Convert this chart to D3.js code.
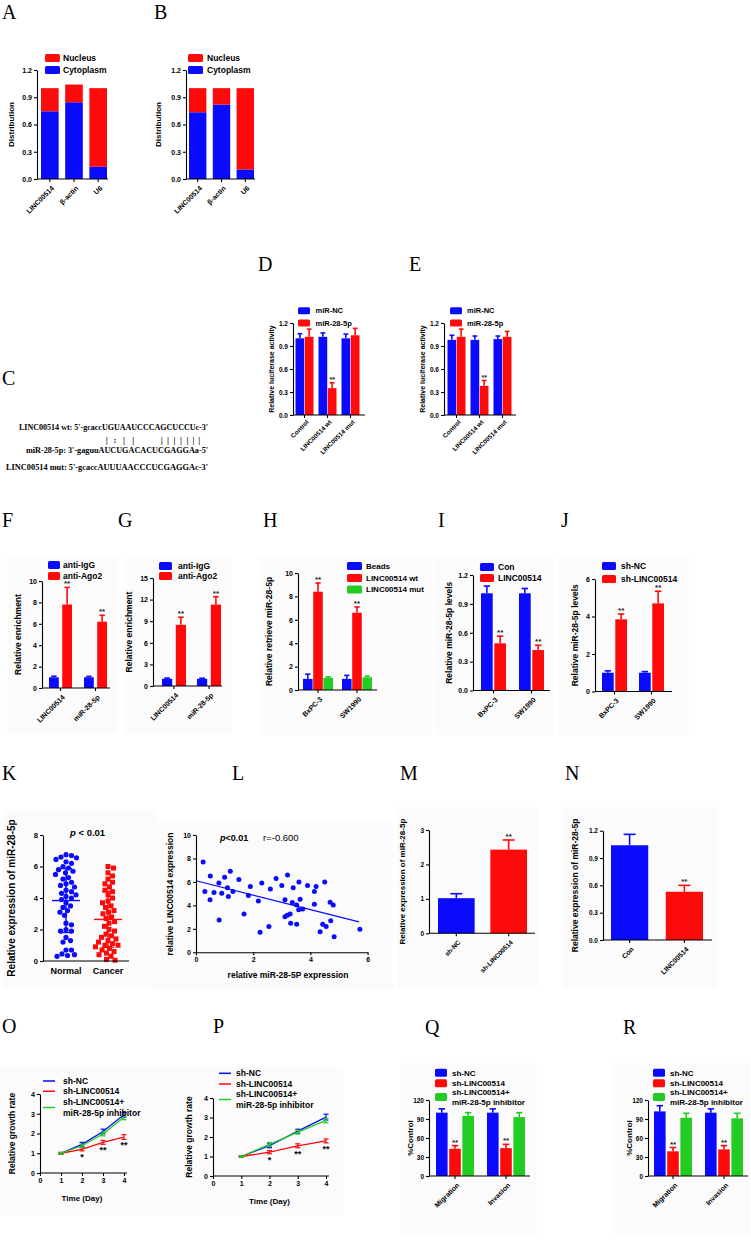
<!DOCTYPE html>
<html><head><meta charset="utf-8">
<script src="https://cdn.jsdelivr.net/npm/d3@7"></script>
<style>body{margin:0;background:#fff}</style>
</head><body>
<svg id="fig" width="751" height="1241"></svg>
<script>
// ================= DATA =================
// A, B: subcellular distribution
const abCats = ["LINC00514", "β-actin", "U6"];
const abLegend = ["Nucleus", "Cytoplasm"];
const aCytoplasm = [0.745, 0.845, 0.135];
const aTotal = [1.0, 1.04, 1.0];
const bCytoplasm = [0.735, 0.82, 0.105];
const bTotal = [1.0, 1.0, 1.0];
const ticks12 = [0, 0.3, 0.6, 0.9, 1.2];
// C: sequences
const cLines = ["LINC00514 wt: 5'-gcaccUGUAAUCCCAGCUCCUc-3'",
                "miR-28-5p: 3'-gaguuAUCUGACACUCGAGGAa-5'",
                "LINC00514 mut: 5'-gcaccAUUUAACCCUCGAGGAc-3'"];
const cMarks = ["|", ":", "|", "|", "|", "|", "|", "|", "|", "|", "|"];
// D, E: luciferase
const deCats = ["Control", "LINC00514 wt", "LINC00514 mut"];
const deSeries = ["miR-NC", "miR-28-5p"];
const dNC = [1.0, 1.02, 1.0], dNCErr = [0.06, 0.05, 0.055];
const dMiR = [1.02, 0.35, 1.04], dMiRErr = [0.1, 0.07, 0.09];
const eNC = [0.98, 0.98, 0.99], eNCErr = [0.06, 0.05, 0.04];
const eMiR = [1.02, 0.38, 1.02], eMiRErr = [0.1, 0.07, 0.07];
// F, G: RIP
const fgCats = ["LINC00514", "miR-28-5p"];
const fgSeries = ["anti-IgG", "anti-Ago2"];
const fIgG = [1.0, 1.0], fIgGErr = [0.1, 0.08];
const fAgo2 = [7.8, 6.2], fAgo2Err = [1.6, 0.6];
const gIgG = [1.0, 1.0], gIgGErr = [0.1, 0.08];
const gAgo2 = [8.5, 11.3], gAgo2Err = [1.05, 1.1];
// H, I, J
const cellCats = ["BxPC-3", "SW1990"];
const hSeries = ["Beads", "LINC00514 wt", "LINC00514 mut"];
const hBeads = [0.95, 0.95], hBeadsErr = [0.4, 0.3];
const hWt = [8.4, 6.6], hWtErr = [0.75, 0.5];
const hMut = [1.05, 1.08], hMutErr = [0.08, 0.1];
const iSeries = ["Con", "LINC00514"];
const iCon = [1.01, 1.01], iConErr = [0.075, 0.05];
const iLinc = [0.49, 0.42], iLincErr = [0.075, 0.05];
const jSeries = ["sh-NC", "sh-LINC00514"];
const jNC = [1.0, 1.0], jNCErr = [0.1, 0.06];
const jLinc = [3.85, 4.7], jLincErr = [0.28, 0.65];
// K: scatter dot plot
const kCats = ["Normal", "Cancer"];
const kNormal = [6.75, 6.7, 6.6, 6.55, 6.45, 6.3, 6.2, 6.0, 5.9, 5.8, 5.7, 5.6, 5.5, 5.3, 5.2, 5.0, 4.9, 4.8,
  4.7, 4.5, 4.4, 4.3, 4.2, 4.1, 4.0, 3.9, 3.7, 3.5, 3.4, 3.2, 3.1, 2.9, 2.4, 2.3, 2.0, 1.9, 1.9, 1.5, 1.3,
  1.2, 0.7, 0.7, 0.45, 0.4, 0.35, 0.3];
const kCancer = [6.0, 5.9, 5.6, 5.4, 5.2, 5.0, 4.9, 4.7, 4.5, 4.4, 4.2, 4.0, 3.8, 3.7, 3.5, 3.4, 3.2, 3.1, 3.0,
  2.8, 2.7, 2.5, 2.4, 2.2, 2.0, 1.9, 1.7, 1.6, 1.5, 1.4, 1.3, 1.2, 1.1, 1.0, 1.0, 0.9, 0.8, 0.7, 0.6, 0.5,
  0.4, 0.3, 0.1, 0.05];
// L: correlation
const lX = [0.25, 0.5, 0.8, 1.0, 1.2, 1.5, 1.9, 2.3, 2.8, 3.0, 3.2, 3.4, 3.6, 3.9, 4.2, 4.5, 2.6, 1.1,
  0.31, 0.63, 0.90, 1.13, 1.29, 1.83, 0.49, 2.18, 1.68, 0.81, 2.24, 2.55, 3.11, 3.37, 3.52, 3.64, 4.14, 4.14,
  3.11, 3.19, 3.29, 3.59, 3.73, 3.31, 3.52, 4.69, 4.80, 4.43, 4.55, 4.71, 4.34, 4.83, 5.73];
const lY = [7.7, 6.5, 5.9, 6.4, 6.9, 6.2, 5.6, 5.9, 6.3, 5.7, 6.6, 5.5, 6.0, 5.7, 5.6, 6.0, 5.4, 5.5,
  5.18, 5.09, 5.04, 4.75, 5.18, 4.84, 4.47, 4.38, 3.27, 2.76, 1.71, 2.19, 4.47, 4.24, 4.04, 4.53, 5.18, 4.10,
  3.04, 3.16, 3.27, 3.62, 3.70, 2.48, 2.39, 4.27, 4.04, 2.39, 2.19, 2.68, 1.76, 1.33, 1.97];
const lFitX = [0, 5.7], lFitY = [6.1, 2.6];
// M, N
const mCats = ["sh-NC", "sh-LINC00514"], mVals = [1.02, 2.43], mErr = [0.13, 0.28];
const nCats = ["Con", "LINC00514"], nVals = [1.04, 0.53], nErr = [0.12, 0.07];
// O, P: growth
const days = [1, 2, 3, 4];
const growthSeries = ["sh-NC", "sh-LINC00514", "sh-LINC00514+\nmiR-28-5p inhibitor"];
const oNC = [1.0, 1.45, 2.1, 2.95], oNCErr = [0.04, 0.1, 0.12, 0.12];
const oSh = [1.0, 1.2, 1.55, 1.82], oShErr = [0.04, 0.08, 0.1, 0.12];
const oInh = [1.0, 1.38, 1.98, 2.82], oInhErr = [0.04, 0.08, 0.1, 0.12];
const pNC = [1.0, 1.55, 2.3, 3.02], pNCErr = [0.04, 0.1, 0.1, 0.15];
const pSh = [1.0, 1.22, 1.55, 1.8], pShErr = [0.04, 0.08, 0.1, 0.1];
const pInh = [1.0, 1.62, 2.25, 2.85], pInhErr = [0.04, 0.1, 0.1, 0.12];
// Q, R
const qrCats = ["Migration", "Invasion"];
const qNC = [100, 100], qNCErr = [6, 6];
const qSh = [43, 44], qShErr = [5, 6];
const qInh = [95, 93], qInhErr = [5, 7];
const rNC = [102, 100], rNCErr = [9, 6];
const rSh = [39, 42], rShErr = [6, 6];
const rInh = [92, 91], rInhErr = [7, 8];

// ================= DRAWING =================
const FONT = "'Liberation Sans', Arial, sans-serif";
const SERIF = "'Liberation Serif', 'Times New Roman', serif";
const BLUE = "#0a0aff", RED = "#ff0a0a", GREEN = "#22cc22";
const svg = d3.select("#fig").attr("font-family", FONT).attr("font-weight", "bold");
const f1 = d3.format(".1f"), fd = d3.format("d");

function styleAxis(sel, fs) {
  sel.attr("font-family", FONT).attr("font-size", fs).attr("font-weight", "bold");
  sel.selectAll("path,line").attr("stroke", "#000").attr("stroke-width", 1.1);
  sel.selectAll("text").attr("fill", "#000");
}
function bgRect(g, b) {
  g.append("rect").attr("x", b[0]).attr("y", b[1]).attr("width", b[2] - b[0]).attr("height", b[3] - b[1]).attr("fill", "#fbfbfb");
}
function panelLabel(t, x, y) {
  svg.append("text").attr("x", x).attr("y", y).attr("font-family", SERIF).attr("font-weight", "normal")
    .attr("font-size", 20).text(t);
}
function legend(g, L) {
  L.items.forEach(it => {
    if (L.line) {
      g.append("line").attr("x1", L.x).attr("x2", L.x + L.w).attr("y1", it.y).attr("y2", it.y).attr("stroke", it.c).attr("stroke-width", 1.5);
    } else {
      g.append("rect").attr("x", L.x).attr("y", it.y - L.h / 2).attr("width", L.w).attr("height", L.h).attr("rx", 1.5).attr("fill", it.c);
    }
    const lines = it.t.split("\n");
    lines.forEach((ln, k) => g.append("text").attr("x", L.tx).attr("y", it.y + (k - (lines.length - 1) / 2) * (L.lh || 10.6))
      .attr("dy", "0.35em").attr("font-size", L.fs).text(ln));
  });
}

function barChart(p) {
  const g = svg.append("g");
  if (p.bg) bgRect(g, p.bg);
  const y = d3.scaleLinear().domain(p.domain).range(p.yRange);
  const xg = d3.scaleBand().domain(p.cats).range(p.barRange).paddingInner(p.padG).paddingOuter(0);
  const xsScale = d3.scaleBand().domain(p.series.map((s, i) => i)).range([0, xg.bandwidth()]).paddingInner(p.padS || 0);
  const xs = p.stacked ? (() => 0) : xsScale;
  const bw = p.stacked ? xg.bandwidth() : xsScale.bandwidth();
  p.series.forEach((s, si) => {
    const colorOf = i => s.colors ? s.colors[i] : s.color;
    const base = i => s.base ? s.base[i] : 0;
    g.append("g").selectAll("rect").data(s.values).join("rect")
      .attr("x", (d, i) => xg(p.cats[i]) + xs(si)).attr("width", bw)
      .attr("y", d => y(d)).attr("height", (d, i) => y(base(i)) - y(d))
      .attr("fill", (d, i) => colorOf(i));
    if (s.errors) {
      const eg = g.append("g");
      s.values.forEach((v, i) => {
        const cx = xg(p.cats[i]) + xs(si) + bw / 2, top = y(v + s.errors[i]);
        const cw = Math.min(Math.max(4, bw * 0.55), 12);
        eg.append("line").attr("x1", cx).attr("x2", cx).attr("y1", y(v)).attr("y2", top).attr("stroke", colorOf(i)).attr("stroke-width", 1.6);
        eg.append("line").attr("x1", cx - cw / 2).attr("x2", cx + cw / 2).attr("y1", top).attr("y2", top).attr("stroke", colorOf(i)).attr("stroke-width", 1.6);
      });
    }
  });
  (p.stars || []).forEach(st => {
    const s = p.series[st.s];
    const v = s.values[st.c] + (s.errors ? s.errors[st.c] : 0);
    g.append("text").attr("x", xg(p.cats[st.c]) + xs(st.s) + bw / 2).attr("y", y(v) - 1)
      .attr("text-anchor", "middle").attr("font-size", p.starFont || 8).attr("fill", "#222").text(st.t || "**");
  });
  const ya = g.append("g").attr("transform", `translate(${p.axisX[0]},0)`)
    .call(d3.axisLeft(y).tickValues(p.ticks).tickFormat(p.fmt || fd).tickSize(3).tickSizeOuter(0).tickPadding(2));
  styleAxis(ya, p.tickFont || 7);
  const xa = g.append("g").attr("transform", `translate(0,${y(0)})`)
    .call(d3.axisBottom(xg).tickSize(3).tickSizeOuter(0));
  xa.select(".domain").remove();
  xa.append("line").attr("x1", p.axisX[0]).attr("x2", p.axisX[1]);
  styleAxis(xa, p.xFont || 7);
  xa.selectAll(".tick text").attr("text-anchor", "end").attr("y", 0).attr("dy", "0.35em")
    .attr("transform", `translate(3,${p.labDy || 8}) rotate(-45)`);
  const ym = (p.yRange[0] + p.yRange[1]) / 2;
  g.append("text").attr("transform", `translate(${p.titleX},${ym}) rotate(-90)`).attr("text-anchor", "middle")
    .attr("font-size", p.titleFont || 8.5).text(p.title);
  if (p.legend) legend(g, p.legend);
}

// ---- A, B
panelLabel("A", 2, 18.5);
panelLabel("B", 154, 18.5);
[[aCytoplasm, aTotal, 37, 41, 107, 14, 45, 63], [bCytoplasm, bTotal, 186, 189, 254, 161, 188, 207]].forEach(c => {
  barChart({
    cats: abCats, stacked: true,
    series: [{ color: BLUE, values: c[0] }, { color: RED, values: c[1], base: c[0] }],
    domain: [0, 1.2], yRange: [179, 70], ticks: ticks12, fmt: f1,
    barRange: [c[3], c[4]], padG: 0.27, axisX: [c[2], c[4] + 1],
    title: "Distribution", titleX: c[5], titleFont: 8,
    legend: { x: c[6], w: 15, h: 8, tx: c[7], fs: 8.5, items: [{ t: abLegend[0], c: RED, y: 58 }, { t: abLegend[1], c: BLUE, y: 70 }] }
  });
});

// ---- C
panelLabel("C", 2, 385);
{
  const g = svg.append("g").attr("font-family", SERIF).attr("font-weight", "bold").attr("font-size", 8.5);
  const ys = [429.5, 453, 470], lens = [189, 182, 202];
  cLines.forEach((t, i) => g.append("text").attr("x", 208).attr("y", ys[i]).attr("text-anchor", "end")
    .attr("textLength", lens[i]).attr("lengthAdjust", "spacingAndGlyphs").text(t));
  const mx = [106.7, 115, 124, 133.3, 161.7, 168, 174.5, 181, 187.5, 193.5, 199.3];
  cMarks.forEach((m, i) => g.append("text").attr("x", mx[i]).attr("y", 442.5).attr("text-anchor", "middle")
    .attr("font-size", 9).attr("fill", "#111").text(m));
}

// ---- D, E
panelLabel("D", 258, 271);
panelLabel("E", 409, 271);
[[dNC, dNCErr, dMiR, dMiRErr, 293, 295.5, 365, 274, 298, 315.5],
 [eNC, eNCErr, eMiR, eMiRErr, 444, 447.5, 516, 425, 450, 467]].forEach(c => {
  barChart({
    cats: deCats,
    series: [{ color: BLUE, values: c[0], errors: c[1] }, { color: RED, values: c[2], errors: c[3] }],
    domain: [0, 1.2], yRange: [415, 323], ticks: ticks12, fmt: f1,
    barRange: [c[5], c[5] + 64], padG: 0.217, padS: 0.06, axisX: [c[4], c[6]],
    title: "Relative luciferase activity", titleX: c[7], titleFont: 7, tickFont: 6.5, xFont: 6.3, labDy: 6,
    stars: [{ c: 1, s: 1 }], starFont: 7,
    legend: { x: c[8], w: 12, h: 7, tx: c[9], fs: 7.5, items: [{ t: deSeries[0], c: BLUE, y: 310.7 }, { t: deSeries[1], c: RED, y: 323 }] }
  });
});

// ---- F, G
panelLabel("F", 2, 527);
panelLabel("G", 118, 527);
barChart({
  cats: fgCats, bg: [7, 557, 117, 733],
  series: [{ color: BLUE, values: fIgG, errors: fIgGErr }, { color: RED, values: fAgo2, errors: fAgo2Err }],
  domain: [0, 10], yRange: [688, 581], ticks: [0, 2, 4, 6, 8, 10],
  barRange: [49, 107], padG: 0.343, padS: 0.26, axisX: [42, 110],
  title: "Relative enrichment", titleX: 21, stars: [{ c: 0, s: 1 }, { c: 1, s: 1 }],
  legend: { x: 48, w: 12, h: 8, tx: 63, fs: 8.5, items: [{ t: fgSeries[0], c: BLUE, y: 565 }, { t: fgSeries[1], c: RED, y: 576 }] }
});
barChart({
  cats: fgCats, bg: [125, 557, 232, 733],
  series: [{ color: BLUE, values: gIgG, errors: gIgGErr }, { color: RED, values: gAgo2, errors: gAgo2Err }],
  domain: [0, 15], yRange: [686, 578], ticks: [0, 3, 6, 9, 12, 15],
  barRange: [162, 221], padG: 0.314, padS: 0.26, axisX: [153, 222],
  title: "Relative enrichment", titleX: 132, stars: [{ c: 0, s: 1 }, { c: 1, s: 1 }],
  legend: { x: 159, w: 13, h: 8, tx: 178, fs: 8.5, items: [{ t: fgSeries[0], c: BLUE, y: 566 }, { t: fgSeries[1], c: RED, y: 576 }] }
});

// ---- H, I, J
panelLabel("H", 263, 527);
panelLabel("I", 438, 527);
panelLabel("J", 561, 527);
barChart({
  cats: cellCats, bg: [260, 557, 432, 735],
  series: [{ color: BLUE, values: hBeads, errors: hBeadsErr }, { color: RED, values: hWt, errors: hWtErr }, { color: GREEN, values: hMut, errors: hMutErr }],
  domain: [0, 10], yRange: [690, 573], ticks: [0, 2, 4, 6, 8, 10],
  barRange: [303, 372], padG: 0.23, padS: 0.06, axisX: [298, 377],
  title: "Relative retrieve miR-28-5p", titleX: 272, stars: [{ c: 0, s: 1 }, { c: 1, s: 1 }],
  legend: { x: 347, w: 15, h: 8, tx: 366, fs: 8, items: [{ t: hSeries[0], c: BLUE, y: 566 }, { t: hSeries[1], c: RED, y: 578 }, { t: hSeries[2], c: GREEN, y: 589.5 }] }
});
barChart({
  cats: cellCats, bg: [435, 557, 553, 735],
  series: [{ color: BLUE, values: iCon, errors: iConErr }, { color: RED, values: iLinc, errors: iLincErr }],
  domain: [0, 1.2], yRange: [690.5, 575], ticks: ticks12, fmt: f1,
  barRange: [481, 544], padG: 0.342, padS: 0.12, axisX: [473, 550],
  title: "Relative miR-28-5p levels", titleX: 452, stars: [{ c: 0, s: 1 }, { c: 1, s: 1 }],
  legend: { x: 480, w: 14, h: 8, tx: 498, fs: 8.5, items: [{ t: iSeries[0], c: BLUE, y: 567 }, { t: iSeries[1], c: RED, y: 578 }] }
});
barChart({
  cats: cellCats, bg: [558, 557, 689, 735],
  series: [{ color: BLUE, values: jNC, errors: jNCErr }, { color: RED, values: jLinc, errors: jLincErr }],
  domain: [0, 6], yRange: [691.5, 579], ticks: [0, 2, 4, 6],
  barRange: [602, 664], padG: 0.324, padS: 0.12, axisX: [595, 672],
  title: "Relative miR-28-5p levels", titleX: 578, stars: [{ c: 0, s: 1 }, { c: 1, s: 1 }],
  legend: { x: 602, w: 14, h: 8, tx: 621, fs: 8.5, items: [{ t: jSeries[0], c: BLUE, y: 566 }, { t: jSeries[1], c: RED, y: 579 }] }
});

// ---- K
panelLabel("K", 2, 780);
{
  const g = svg.append("g");
  bgRect(g, [3, 810, 157, 988]);
  const y = d3.scaleLinear().domain([0, 8]).range([961, 835]);
  const x = d3.scaleBand().domain(kCats).range([45, 129]);
  function swarmX(vals, cx, d) {
    const placed = [], res = new Array(vals.length);
    const order = d3.range(vals.length).sort((a, b) => vals[b] - vals[a]);
    order.forEach(i => {
      const py = y(vals[i]);
      let best = cx;
      for (let k = 0; k < 400; k++) {
        const off = (k % 2 ? 1 : -1) * Math.ceil(k / 2) * 0.5;
        const px = cx + off;
        if (placed.every(q => Math.hypot(q[0] - px, q[1] - py) >= d)) { best = px; break; }
      }
      placed.push([best, py]); res[i] = best;
    });
    return res;
  }
  const groups = [{ vals: kNormal, color: BLUE, shape: "circle" }, { vals: kCancer, color: RED, shape: "square" }];
  groups.forEach((gr, gi) => {
    const cx = x(kCats[gi]) + x.bandwidth() / 2;
    const xs = swarmX(gr.vals, cx, 5.4);
    if (gr.shape === "circle") {
      g.append("g").selectAll("circle").data(gr.vals).join("circle")
        .attr("cx", (d, i) => xs[i]).attr("cy", d => y(d)).attr("r", 2.6).attr("fill", gr.color);
    } else {
      g.append("g").selectAll("rect").data(gr.vals).join("rect")
        .attr("x", (d, i) => xs[i] - 2.5).attr("y", d => y(d) - 2.5).attr("width", 5).attr("height", 5).attr("fill", gr.color);
    }
    const m = d3.mean(gr.vals), sd = d3.deviation(gr.vals);
    const lg = g.append("g").attr("stroke", gr.color).attr("stroke-width", 1.4);
    lg.append("line").attr("x1", cx - 14).attr("x2", cx + 14).attr("y1", y(m)).attr("y2", y(m));
    lg.append("line").attr("x1", cx).attr("x2", cx).attr("y1", y(m + sd)).attr("y2", y(m - sd));
    [m + sd, m - sd].forEach(v => lg.append("line").attr("x1", cx - 6).attr("x2", cx + 6).attr("y1", y(v)).attr("y2", y(v)));
  });
  const ya = g.append("g").attr("transform", "translate(43,0)")
    .call(d3.axisLeft(y).tickValues([0, 2, 4, 6, 8]).tickFormat(fd).tickSize(3).tickSizeOuter(0).tickPadding(2));
  styleAxis(ya, 7.5);
  const xa = g.append("g").attr("transform", `translate(0,${y(0)})`).call(d3.axisBottom(x).tickSize(0).tickPadding(7));
  xa.select(".domain").remove();
  xa.append("line").attr("x1", 43).attr("x2", 129);
  styleAxis(xa, 9);
  g.append("text").attr("transform", `translate(15,${(961 + 835) / 2}) rotate(-90)`).attr("text-anchor", "middle")
    .attr("font-size", 10).text("Relative expression of miR-28-5p");
  const pt = g.append("text").attr("x", 70).attr("y", 836).attr("font-size", 9.5);
  pt.append("tspan").attr("font-style", "italic").text("p");
  pt.append("tspan").text(" < 0.01");
}

// ---- L
panelLabel("L", 232, 780);
{
  const g = svg.append("g");
  bgRect(g, [157, 820, 393, 990]);
  const x = d3.scaleLinear().domain([0, 6]).range([196, 367.6]);
  const y = d3.scaleLinear().domain([0, 10]).range([952.3, 835]);
  g.append("g").selectAll("circle").data(lX).join("circle")
    .attr("cx", d => x(d)).attr("cy", (d, i) => y(lY[i])).attr("r", 2.5).attr("fill", BLUE);
  g.append("line").attr("x1", x(lFitX[0])).attr("x2", x(lFitX[1])).attr("y1", y(lFitY[0])).attr("y2", y(lFitY[1]))
    .attr("stroke", BLUE).attr("stroke-width", 1.2);
  const ya = g.append("g").attr("transform", "translate(196,0)")
    .call(d3.axisLeft(y).tickValues([0, 2, 4, 6, 8, 10]).tickFormat(fd).tickSize(3).tickSizeOuter(0).tickPadding(2));
  styleAxis(ya, 7);
  const xa = g.append("g").attr("transform", "translate(0,952.3)")
    .call(d3.axisBottom(x).tickValues([0, 2, 4, 6]).tickFormat(fd).tickSize(3).tickSizeOuter(0).tickPadding(2));
  styleAxis(xa, 7);
  g.append("text").attr("x", 288).attr("y", 978).attr("text-anchor", "middle").attr("font-size", 8.5).text("relative miR-28-5P expression");
  g.append("text").attr("transform", "translate(173,894) rotate(-90)").attr("text-anchor", "middle").attr("font-size", 8.5).text("relative LINC00514 expression");
  const pt = g.append("text").attr("x", 220).attr("y", 841).attr("font-size", 9);
  pt.append("tspan").attr("font-style", "italic").text("p");
  pt.append("tspan").text("<0.01");
  g.append("text").attr("x", 263).attr("y", 841).attr("font-size", 9.5).attr("font-weight", "normal").text("r=-0.600");
}

// ---- M, N
panelLabel("M", 400, 780);
panelLabel("N", 565, 780);
barChart({
  cats: mCats, bg: [397, 807, 538, 988],
  series: [{ colors: [BLUE, RED], color: BLUE, values: mVals, errors: mErr }],
  domain: [0, 3], yRange: [933.3, 830], ticks: [0, 1, 2, 3],
  barRange: [438, 527], padG: 0.3, axisX: [429, 535], tickFont: 6.5, xFont: 6.5,
  title: "Relative expression of miR-28-5p", titleX: 405, titleFont: 8, stars: [{ c: 1, s: 0 }]
});
barChart({
  cats: nCats, bg: [563, 807, 717, 988],
  series: [{ colors: [BLUE, RED], color: BLUE, values: nVals, errors: nErr }],
  domain: [0, 1.2], yRange: [940, 830.7], ticks: ticks12, fmt: f1,
  barRange: [611, 703], padG: 0.32, axisX: [603, 712], tickFont: 6.5, xFont: 7,
  title: "Relative expression of miR-28-5p", titleX: 578, titleFont: 8.5, stars: [{ c: 1, s: 0 }]
});

// ---- O, P
panelLabel("O", 2, 1033);
panelLabel("P", 213, 1033);
function growth(p) {
  const g = svg.append("g");
  if (p.bg) bgRect(g, p.bg);
  const x = d3.scaleLinear().domain([0, 4]).range(p.xRange);
  const y = d3.scaleLinear().domain([0, 4]).range(p.yRange);
  const line = d3.line().x((d, i) => x(days[i])).y(d => y(d));
  p.series.forEach(s => {
    g.append("path").datum(s.values).attr("d", line).attr("fill", "none").attr("stroke", s.color).attr("stroke-width", 1.3);
    s.values.forEach((v, i) => {
      const cx = x(days[i]), t = y(v + s.errors[i]), b = y(v - s.errors[i]);
      g.append("line").attr("x1", cx).attr("x2", cx).attr("y1", t).attr("y2", b).attr("stroke", s.color).attr("stroke-width", 1.2);
      [t, b].forEach(yy => g.append("line").attr("x1", cx - 2.5).attr("x2", cx + 2.5).attr("y1", yy).attr("y2", yy).attr("stroke", s.color).attr("stroke-width", 1.2));
    });
  });
  const sh = p.series[1];
  [[1, "*"], [2, "**"], [3, "**"]].forEach(([i, t]) => {
    g.append("text").attr("x", x(days[i])).attr("y", y(sh.values[i] - sh.errors[i]) + 9).attr("text-anchor", "middle")
      .attr("font-size", 9).text(t);
  });
  const ya = g.append("g").attr("transform", `translate(${p.xRange[0]},0)`)
    .call(d3.axisLeft(y).tickValues([0, 1, 2, 3, 4]).tickFormat(fd).tickSize(3).tickSizeOuter(0).tickPadding(2));
  styleAxis(ya, 7);
  const xa = g.append("g").attr("transform", `translate(0,${p.yRange[0]})`)
    .call(d3.axisBottom(x).tickValues([0, 1, 2, 3, 4]).tickFormat(fd).tickSize(3).tickSizeOuter(0).tickPadding(2));
  xa.select(".domain").remove();
  xa.append("line").attr("x1", p.xRange[0]).attr("x2", p.xRange[1] + 3);
  styleAxis(xa, 7);
  g.append("text").attr("x", (p.xRange[0] + p.xRange[1]) / 2).attr("y", p.yRange[0] + 28).attr("text-anchor", "middle").attr("font-size", 8).text("Time (Day)");
  g.append("text").attr("transform", `translate(${p.titleX},${(p.yRange[0] + p.yRange[1]) / 2}) rotate(-90)`).attr("text-anchor", "middle")
    .attr("font-size", 8.5).text("Relative growth rate");
  legend(g, p.legend);
}
growth({
  bg: [0, 1067, 200, 1215], xRange: [40, 124], yRange: [1173, 1094], titleX: 15,
  series: [{ color: BLUE, values: oNC, errors: oNCErr }, { color: RED, values: oSh, errors: oShErr }, { color: GREEN, values: oInh, errors: oInhErr }],
  legend: { line: true, x: 43, w: 12, tx: 63, fs: 8.5, lh: 11, items: [{ t: growthSeries[0], c: BLUE, y: 1081 }, { t: growthSeries[1], c: RED, y: 1091.3 }, { t: growthSeries[2], c: GREEN, y: 1107.5 }] }
});
growth({
  bg: [200, 1067, 343, 1215], xRange: [213, 326], yRange: [1176, 1098], titleX: 192,
  series: [{ color: BLUE, values: pNC, errors: pNCErr }, { color: RED, values: pSh, errors: pShErr }, { color: GREEN, values: pInh, errors: pInhErr }],
  legend: { line: true, x: 219, w: 12, tx: 236, fs: 8.5, lh: 11, items: [{ t: growthSeries[0], c: BLUE, y: 1073.3 }, { t: growthSeries[1], c: RED, y: 1084 }, { t: growthSeries[2], c: GREEN, y: 1099.5 }] }
});

// ---- Q, R
panelLabel("Q", 425, 1034);
panelLabel("R", 623, 1034);
[[qNC, qNCErr, qSh, qShErr, qInh, qInhErr, 429, 436, 530, 413, 435, 452, [400, 1063, 537, 1235]],
 [rNC, rNCErr, rSh, rShErr, rInh, rInhErr, 648, 654, 748, 632, 653, 670, [613, 1063, 750, 1235]]].forEach(c => {
  barChart({
    cats: qrCats, bg: c[12],
    series: [{ color: BLUE, values: c[0], errors: c[1] }, { color: RED, values: c[2], errors: c[3] }, { color: GREEN, values: c[4], errors: c[5] }],
    domain: [0, 120], yRange: [1176, 1100], ticks: [0, 30, 60, 90, 120],
    barRange: [c[7], c[7] + 89], padG: 0.255, padS: 0.12, axisX: [c[6], c[8]], tickFont: 6.5, xFont: 7,
    title: "%Control", titleX: c[9], titleFont: 8, stars: [{ c: 0, s: 1 }, { c: 1, s: 1 }],
    legend: { x: c[10], w: 12, h: 8, tx: c[11], fs: 8, lh: 10.6, items: [{ t: growthSeries[0], c: BLUE, y: 1072.7 }, { t: growthSeries[1], c: RED, y: 1083.3 }, { t: growthSeries[2], c: GREEN, y: 1097 }] }
  });
});
</script>
</body></html>
